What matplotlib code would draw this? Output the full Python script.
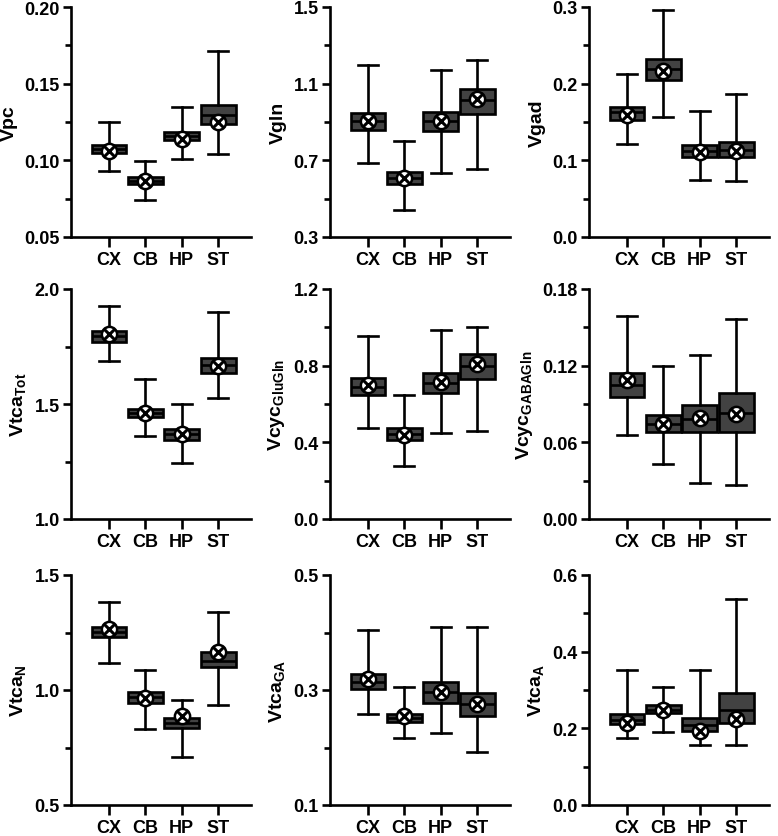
import numpy as np
import matplotlib as mpl
mpl.use('Agg')
import matplotlib.pyplot as plt
from matplotlib.ticker import FixedLocator, FormatStrFormatter

rc = plt.rcParams
rc['font.family'] = ['Liberation Sans', 'DejaVu Sans']
rc['font.weight'] = 'bold'
rc['mathtext.fontset'] = 'custom'
rc['mathtext.rm'] = 'Liberation Sans:bold'
rc['mathtext.it'] = 'Liberation Sans:bold'
rc['mathtext.bf'] = 'Liberation Sans:bold'

regions = ['CX', 'CB', 'HP', 'ST']

ylabels = ['Vpc', 'Vgln', 'Vgad',
           r'Vtca$_{\mathrm{Tot}}$', r'Vcyc$_{\mathrm{GluGln}}$', r'Vcyc$_{\mathrm{GABAGln}}$',
           r'Vtca$_{\mathrm{N}}$', r'Vtca$_{\mathrm{GA}}$', r'Vtca$_{\mathrm{A}}$']

# per panel, per region (CX, CB, HP, ST)
whisker_lo = [[0.093, 0.074, 0.101, 0.104],
              [0.686, 0.442, 0.636, 0.655],
              [0.121, 0.156, 0.074, 0.073],
              [1.689, 1.361, 1.245, 1.526],
              [0.477, 0.276, 0.447, 0.461],
              [0.066, 0.043, 0.028, 0.027],
              [1.116, 0.831, 0.707, 0.933],
              [0.259, 0.216, 0.226, 0.193],
              [0.176, 0.191, 0.157, 0.157]]
q1 = [[0.1047, 0.0846, 0.1130, 0.1240],
      [0.859, 0.577, 0.851, 0.944],
      [0.1524, 0.2051, 0.1040, 0.1050],
      [1.771, 1.444, 1.345, 1.634],
      [0.646, 0.414, 0.659, 0.730],
      [0.0951, 0.0683, 0.0683, 0.0683],
      [1.229, 0.945, 0.836, 1.099],
      [0.302, 0.244, 0.2776, 0.2544],
      [0.2104, 0.2409, 0.1922, 0.2148]]
median = [[0.1073, 0.0868, 0.1156, 0.1296],
          [0.906, 0.608, 0.906, 1.013],
          [0.1628, 0.2190, 0.1128, 0.1137],
          [1.796, 1.461, 1.368, 1.669],
          [0.690, 0.444, 0.707, 0.800],
          [0.1046, 0.0746, 0.0783, 0.0830],
          [1.251, 0.968, 0.858, 1.126],
          [0.3136, 0.2515, 0.2968, 0.2759],
          [0.2226, 0.2470, 0.2087, 0.2470]]
q3 = [[0.1102, 0.0894, 0.1182, 0.1359],
      [0.949, 0.641, 0.954, 1.074],
      [0.1698, 0.2316, 0.1206, 0.1237],
      [1.818, 1.479, 1.391, 1.701],
      [0.737, 0.473, 0.760, 0.859],
      [0.1143, 0.0815, 0.0894, 0.0988],
      [1.274, 0.993, 0.878, 1.167],
      [0.3281, 0.2590, 0.3136, 0.2956],
      [0.2365, 0.2600, 0.2278, 0.2930]]
whisker_hi = [[0.1247, 0.0995, 0.1350, 0.1712],
              [1.195, 0.802, 1.169, 1.223],
              [0.2125, 0.2965, 0.1650, 0.1868],
              [1.924, 1.607, 1.499, 1.898],
              [0.957, 0.648, 0.985, 1.001],
              [0.1592, 0.1198, 0.1285, 0.1569],
              [1.383, 1.086, 0.957, 1.341],
              [0.4042, 0.3055, 0.4094, 0.4094],
              [0.3522, 0.3070, 0.3520, 0.5383]]
mean = [[0.1058, 0.0868, 0.1138, 0.1247],
        [0.906, 0.608, 0.906, 1.019],
        [0.1594, 0.2160, 0.1115, 0.1128],
        [1.806, 1.461, 1.368, 1.664],
        [0.699, 0.440, 0.713, 0.810],
        [0.1085, 0.0744, 0.0788, 0.0820],
        [1.267, 0.965, 0.887, 1.167],
        [0.3200, 0.2544, 0.2968, 0.2759],
        [0.2148, 0.2470, 0.1930, 0.2235]]

ylims = [(0.05, 0.20), (0.3, 1.5), (0.0, 0.3),
         (1.0, 2.0), (0.0, 1.2), (0.0, 0.18),
         (0.5, 1.5), (0.1, 0.5), (0.0, 0.6)]
ysteps = [0.05, 0.4, 0.1, 0.5, 0.4, 0.06, 0.5, 0.2, 0.2]
yfmts = ['%.2f', '%.1f', '%.1f', '%.1f', '%.1f', '%.2f', '%.1f', '%.1f', '%.1f']

W, H = 778, 837
fig = plt.figure(figsize=(W / 100, H / 100), dpi=100)

col_left = [71, 330, 589]
row_bottom = [238, 520, 806]
ax_w, ax_h = 180, 230

lw = 1.9
for k in range(9):
    r, c = divmod(k, 3)
    ax = fig.add_axes([col_left[c] / W, 1 - row_bottom[r] / H, ax_w / W, ax_h / H])
    stats = []
    for j in range(4):
        stats.append(dict(whislo=whisker_lo[k][j], q1=q1[k][j], med=median[k][j],
                          q3=q3[k][j], whishi=whisker_hi[k][j], fliers=[]))
    pos = np.arange(1, 5)
    ax.bxp(stats, positions=pos, widths=0.95, patch_artist=True, showfliers=False,
           boxprops=dict(facecolor='#424242', edgecolor='black', linewidth=lw),
           medianprops=dict(color='black', linewidth=lw),
           whiskerprops=dict(color='black', linewidth=lw),
           capprops=dict(color='black', linewidth=lw), capwidths=0.55)
    # mean: white circle with a cross
    ax.plot(pos, mean[k], 'o', ms=11, mfc='white', mec='black', mew=1.8, zorder=5)
    ax.plot(pos, mean[k], 'x', ms=7, mec='black', mew=2.2, zorder=6)

    lo, hi = ylims[k]
    step = ysteps[k]
    major = np.arange(lo, hi + step / 2, step)
    minor = np.arange(lo + step / 2, hi, step)
    ax.set_xlim(-0.04, 4.9)
    ax.set_ylim(lo, hi)
    ax.yaxis.set_major_locator(FixedLocator(major))
    ax.yaxis.set_minor_locator(FixedLocator(minor))
    ax.yaxis.set_major_formatter(FormatStrFormatter(yfmts[k]))
    ax.set_xticks(pos)
    ax.set_xticklabels(regions)
    ax.spines['top'].set_visible(False)
    ax.spines['right'].set_visible(False)
    ax.spines['left'].set_linewidth(lw)
    ax.spines['bottom'].set_linewidth(lw)
    ax.tick_params(which='major', length=6, width=lw, labelsize=13, pad=2)
    ax.tick_params(which='minor', length=4, width=lw)
    ax.tick_params(axis='x', which='major', length=7, pad=3)
    for t in ax.get_xticklabels() + ax.get_yticklabels():
        t.set_fontweight('bold')
    ax.set_ylabel(ylabels[k], fontsize=14, fontweight='bold', labelpad=5)

fig.savefig('out.png', dpi=100, facecolor='white')
